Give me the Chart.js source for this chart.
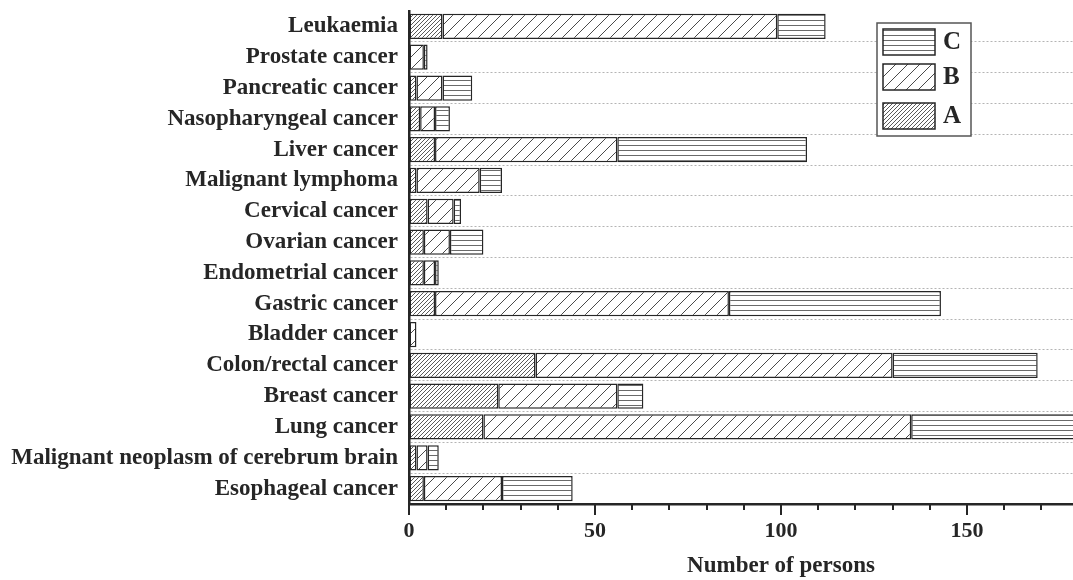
<!DOCTYPE html>
<html>
<head>
<meta charset="utf-8">
<script src="https://cdn.jsdelivr.net/npm/chart.js@4.4.1/dist/chart.umd.min.js"></script>
<style>
  html, body { margin: 0; padding: 0; background: #fff; overflow: hidden; }
  #wrap { width: 1160px; height: 580px; }
</style>
</head>
<body>
<div id="wrap"><canvas id="chart" width="1160" height="580"></canvas></div>
<script>
// Catégories (de haut en bas)
const categories = [
  "Leukaemia",
  "Prostate cancer",
  "Pancreatic cancer",
  "Nasopharyngeal cancer",
  "Liver cancer",
  "Malignant lymphoma",
  "Cervical cancer",
  "Ovarian cancer",
  "Endometrial cancer",
  "Gastric cancer",
  "Bladder cancer",
  "Colon/rectal cancer",
  "Breast cancer",
  "Lung cancer",
  "Malignant neoplasm of cerebrum brain",
  "Esophageal cancer"
];

// Valeurs
const seriesA = [9, 0, 2, 3, 7, 2, 5, 4, 4, 7, 0, 34, 24, 20, 2, 4];
const seriesB = [90, 4, 7, 4, 49, 17, 7, 7, 3, 79, 2, 96, 32, 115, 3, 21];
const seriesC = [13, 1, 8, 4, 51, 6, 2, 9, 1, 57, 0, 39, 7, 50, 3, 19];

const xTickLabels = [0, 50, 100, 150, 200];
const axisTitle = "Number of persons";

const FONT = "'Liberation Serif', 'Times New Roman', serif";
const INK = '#262626';

// ======== MOTIFS DE HACHURES ========

function diagonalPattern(size, color) {
  const c = document.createElement('canvas');
  c.width = size;
  c.height = size;
  const g = c.getContext('2d');
  g.fillStyle = '#fff';
  g.fillRect(0, 0, size, size);
  g.strokeStyle = color;
  g.lineWidth = 1;
  g.beginPath();
  g.moveTo(-1, size + 1); g.lineTo(size + 1, -1);
  g.moveTo(-1, 1); g.lineTo(1, -1);
  g.moveTo(size - 1, size + 1); g.lineTo(size + 1, size - 1);
  g.stroke();
  return g.createPattern(c, 'repeat');
}

function horizontalPattern(size, color) {
  const c = document.createElement('canvas');
  c.width = size;
  c.height = size;
  const g = c.getContext('2d');
  g.fillStyle = '#fff';
  g.fillRect(0, 0, size, size);
  g.fillStyle = color;
  g.fillRect(0, 0, size, 1);
  return g.createPattern(c, 'repeat');
}

const patternA = diagonalPattern(4, '#5a5a5a');
const patternB = diagonalPattern(12, '#4a4a4a');
const patternC = horizontalPattern(5, '#6a6a6a');

// ======== PLUGINS ========

// Petites et grandes graduations de l'axe X
const tickMarks = {
  id: 'tickMarks',
  afterDraw(chart) {
    const scale = chart.scales.x;
    const ctx = chart.ctx;
    ctx.save();
    ctx.strokeStyle = INK;
    ctx.lineWidth = 2;
    scale.ticks.forEach(t => {
      const x = Math.round(scale.getPixelForValue(t.value));
      const len = t.value % 50 === 0 ? 11 : 6;
      ctx.beginPath();
      ctx.moveTo(x, scale.top);
      ctx.lineTo(x, scale.top + len);
      ctx.stroke();
    });
    ctx.restore();
  }
};

// Légende encadrée (ordre inversé : C, B, A)
const boxLegend = {
  id: 'boxLegend',
  afterDraw(chart) {
    const ctx = chart.ctx;
    const left = 877, top = 23, width = 94, height = 113;
    ctx.save();
    ctx.fillStyle = '#fff';
    ctx.fillRect(left, top, width, height);
    ctx.strokeStyle = '#555';
    ctx.lineWidth = 1.5;
    ctx.strokeRect(left, top, width, height);

    const items = chart.data.datasets.slice().reverse();
    const rowTops = [29, 64, 103];
    items.forEach((ds, i) => {
      const y = rowTops[i];
      ctx.fillStyle = ds.backgroundColor;
      ctx.fillRect(883, y, 52, 26);
      ctx.strokeStyle = INK;
      ctx.lineWidth = 1.5;
      ctx.strokeRect(883, y, 52, 26);
      ctx.fillStyle = INK;
      ctx.font = "bold 25px " + FONT;
      ctx.textAlign = 'left';
      ctx.textBaseline = 'middle';
      ctx.fillText(ds.label, 943, y + 14);
    });
    ctx.restore();
  }
};

// ======== GRAPHIQUE ========

function makeDataset(label, data, pattern) {
  return {
    label: label,
    data: data,
    backgroundColor: pattern,
    borderColor: INK,
    borderWidth: 1.5,
    borderSkipped: false,
    barPercentage: 0.82,
    categoryPercentage: 1.0
  };
}

new Chart(document.getElementById('chart'), {
  type: 'bar',
  data: {
    labels: categories,
    datasets: [
      makeDataset('A', seriesA, patternA),
      makeDataset('B', seriesB, patternB),
      makeDataset('C', seriesC, patternC)
    ]
  },
  options: {
    indexAxis: 'y',
    responsive: false,
    animation: false,
    layout: { padding: { top: 11, right: 7, left: 0, bottom: 0 } },
    plugins: {
      legend: { display: false },
      tooltip: { enabled: false }
    },
    scales: {
      x: {
        type: 'linear',
        stacked: true,
        min: 0,
        max: 200,
        afterBuildTicks: scale => {
          const ticks = [];
          for (let v = 0; v <= 200; v += 10) ticks.push({ value: v });
          scale.ticks = ticks;
        },
        afterFit: scale => {
          scale.height = 76;
          scale.paddingLeft = 0;
          scale.paddingRight = 0;
        },
        ticks: {
          autoSkip: false,
          maxRotation: 0,
          padding: 14,
          color: INK,
          font: { family: FONT, size: 22, weight: 'bold' },
          callback: v => xTickLabels.includes(v) ? String(v) : ''
        },
        grid: { drawOnChartArea: false, drawTicks: false },
        border: { display: true, color: INK, width: 2.5 },
        title: {
          display: true,
          text: axisTitle,
          color: INK,
          font: { family: FONT, size: 23, weight: 'bold' },
          padding: { top: 4, bottom: 0 }
        }
      },
      y: {
        type: 'category',
        stacked: true,
        afterFit: scale => {
          scale.width = 409;
          scale.paddingTop = 0;
          scale.paddingBottom = 0;
        },
        ticks: {
          autoSkip: false,
          padding: 11,
          color: INK,
          font: { family: FONT, size: 23, weight: 'bold' }
        },
        grid: {
          drawTicks: false,
          lineWidth: 1,
          color: ctx => ctx.index === 0 ? 'rgba(0,0,0,0)' : '#b4b4b4'
        },
        border: { display: true, color: INK, width: 2.5, dash: [2, 2] }
      }
    }
  },
  plugins: [tickMarks, boxLegend]
});
</script>
</body>
</html>
